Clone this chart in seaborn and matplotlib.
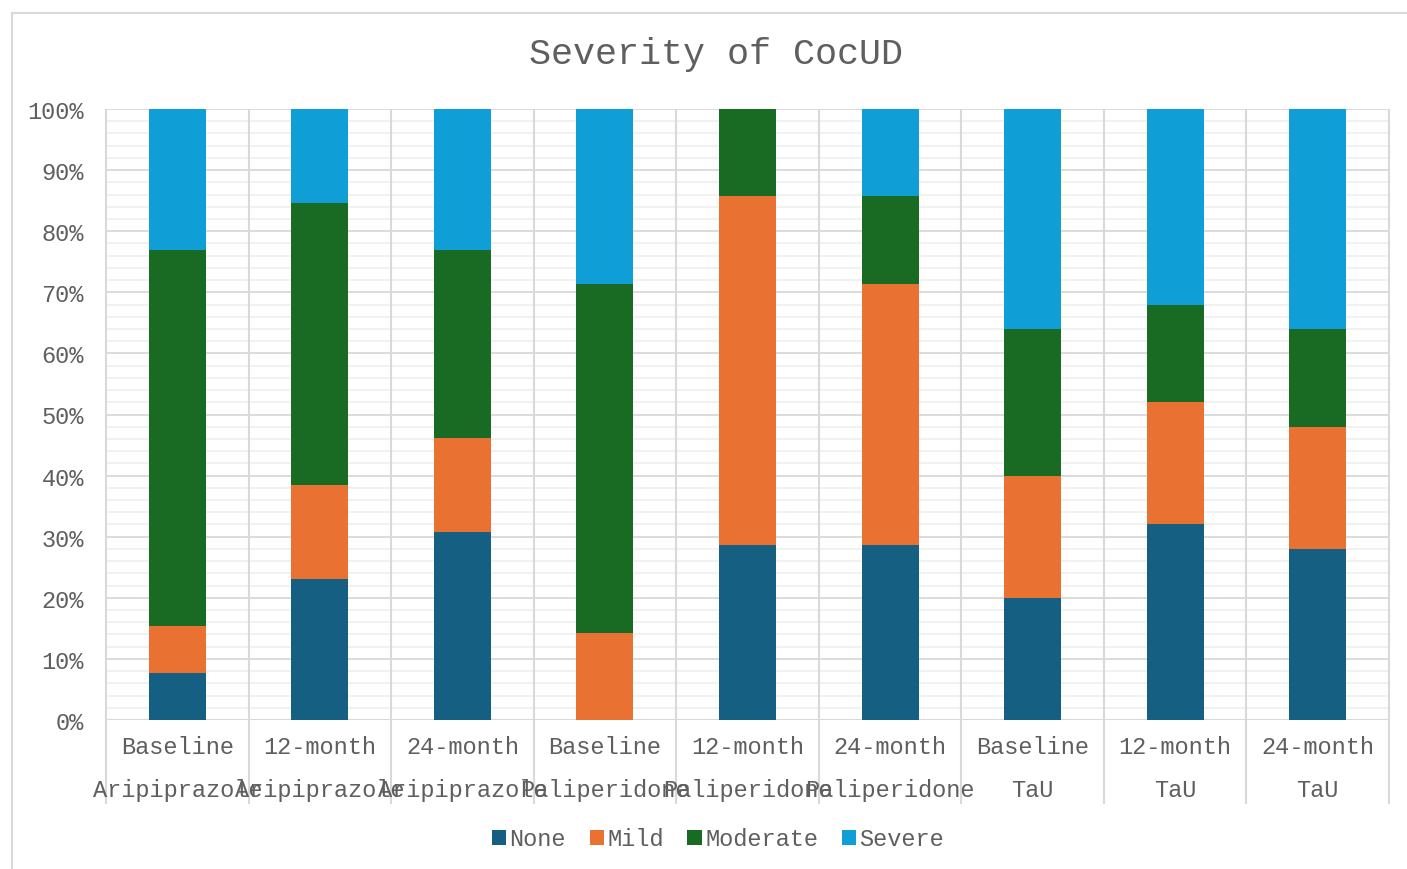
import matplotlib
matplotlib.use("Agg")
import matplotlib.pyplot as plt
from matplotlib.patches import Patch, Rectangle
from matplotlib.ticker import MultipleLocator, PercentFormatter
import matplotlib.transforms as mtransforms
import numpy as np
import pandas as pd
import seaborn as sns

# Data: share of patients (%) in each severity class
timepoints = ["Baseline", "12-month", "24-month"] * 3
groups = ["Aripiprazole"] * 3 + ["Paliperidone"] * 3 + ["TaU"] * 3
severity_levels = ["None", "Mild", "Moderate", "Severe"]
none_pct = [7.69, 23.08, 30.77, 0.0, 28.57, 28.57, 20.0, 32.0, 28.0]
mild_pct = [7.69, 15.38, 15.38, 14.29, 57.14, 42.86, 20.0, 20.0, 20.0]
moderate_pct = [61.54, 46.15, 30.77, 57.14, 14.29, 14.29, 24.0, 16.0, 16.0]
severe_pct = [23.08, 15.38, 23.08, 28.57, 0.0, 14.29, 36.0, 32.0, 36.0]

colors = {"None": "#156082", "Mild": "#E97132",
          "Moderate": "#196B24", "Severe": "#0F9ED5"}
text_color = "#5F5F5F"
grid_major = "#D9D9D9"
grid_minor = "#F0F0F0"

sns.set_theme(style="white")
plt.rcParams["font.family"] = ["Liberation Mono", "DejaVu Sans Mono"]

W, H = 1407, 870
fig = plt.figure(figsize=(W / 100, H / 100), dpi=100)
ax = fig.add_axes([106 / W, 1 - 721 / H, (1389 - 106) / W, (721 - 110) / H])

labels = [f"{t}\n{g}" for t, g in zip(timepoints, groups)]
df = pd.DataFrame({"label": labels, "None": none_pct, "Mild": mild_pct,
                   "Moderate": moderate_pct, "Severe": severe_pct})

# Stack by drawing cumulative totals from the top layer down
cum = df[severity_levels].cumsum(axis=1)
for level in reversed(severity_levels):
    sns.barplot(x=df["label"], y=cum[level], color=colors[level], width=0.4,
                linewidth=0, saturation=1, ax=ax, zorder=3)

ax.set_ylim(0, 100)
ax.set_xlim(-0.5, len(labels) - 0.5)
ax.yaxis.set_major_locator(MultipleLocator(10))
ax.yaxis.set_minor_locator(MultipleLocator(2))
ax.yaxis.set_major_formatter(PercentFormatter(decimals=0))
ax.grid(which="major", axis="y", color=grid_major, linewidth=1.3, zorder=1)
ax.grid(which="minor", axis="y", color=grid_minor, linewidth=1.3, zorder=0)
ax.set_axisbelow(True)
ax.tick_params(axis="y", which="both", length=0, pad=16,
               labelsize=17, labelcolor=text_color)
ax.set_xticks(range(len(labels)))
ax.set_xticklabels([])
ax.tick_params(axis="x", length=0)
ax.set_xlabel("")
ax.set_ylabel("")
for s in ax.spines.values():
    s.set_visible(False)
ax.axhline(0, color=grid_major, linewidth=1.5, zorder=2)

# Category separators running down through the label rows
trans = mtransforms.blended_transform_factory(ax.transData, ax.transAxes)
bounds = np.arange(-0.5, len(labels), 1.0)
ax.vlines(bounds, -0.1375, 1.0, colors=grid_major, linewidth=1.5,
          transform=trans, clip_on=False, zorder=1)

# Two-level category labels
for i, (t, g) in enumerate(zip(timepoints, groups)):
    ax.text(i, -27 / 611, t, transform=trans, ha="center", va="center",
            fontsize=17, color=text_color)
    ax.text(i, -70 / 611, g, transform=trans, ha="center", va="center",
            fontsize=17, color=text_color)

fig.text(716 / W, 1 - 55 / H, "Severity of CocUD", ha="center", va="center",
         fontsize=26.5, color=text_color)

handles = [Patch(facecolor=colors[l], edgecolor="none", label=l)
           for l in severity_levels]
fig.legend(handles=handles, loc="center", bbox_to_anchor=(718 / W, 1 - 840 / H),
           ncol=4, frameon=False, fontsize=17, labelcolor=text_color,
           handlelength=0.6, handleheight=0.6, handletextpad=0.15,
           columnspacing=1.0)

# Chart area border
fig.patches.append(Rectangle((12 / W, -0.01), 1.0, 1 - 14 / H + 0.01,
                             transform=fig.transFigure, fill=False,
                             edgecolor=grid_major, linewidth=1.5))

fig.savefig("out.png", dpi=100, facecolor="white")
